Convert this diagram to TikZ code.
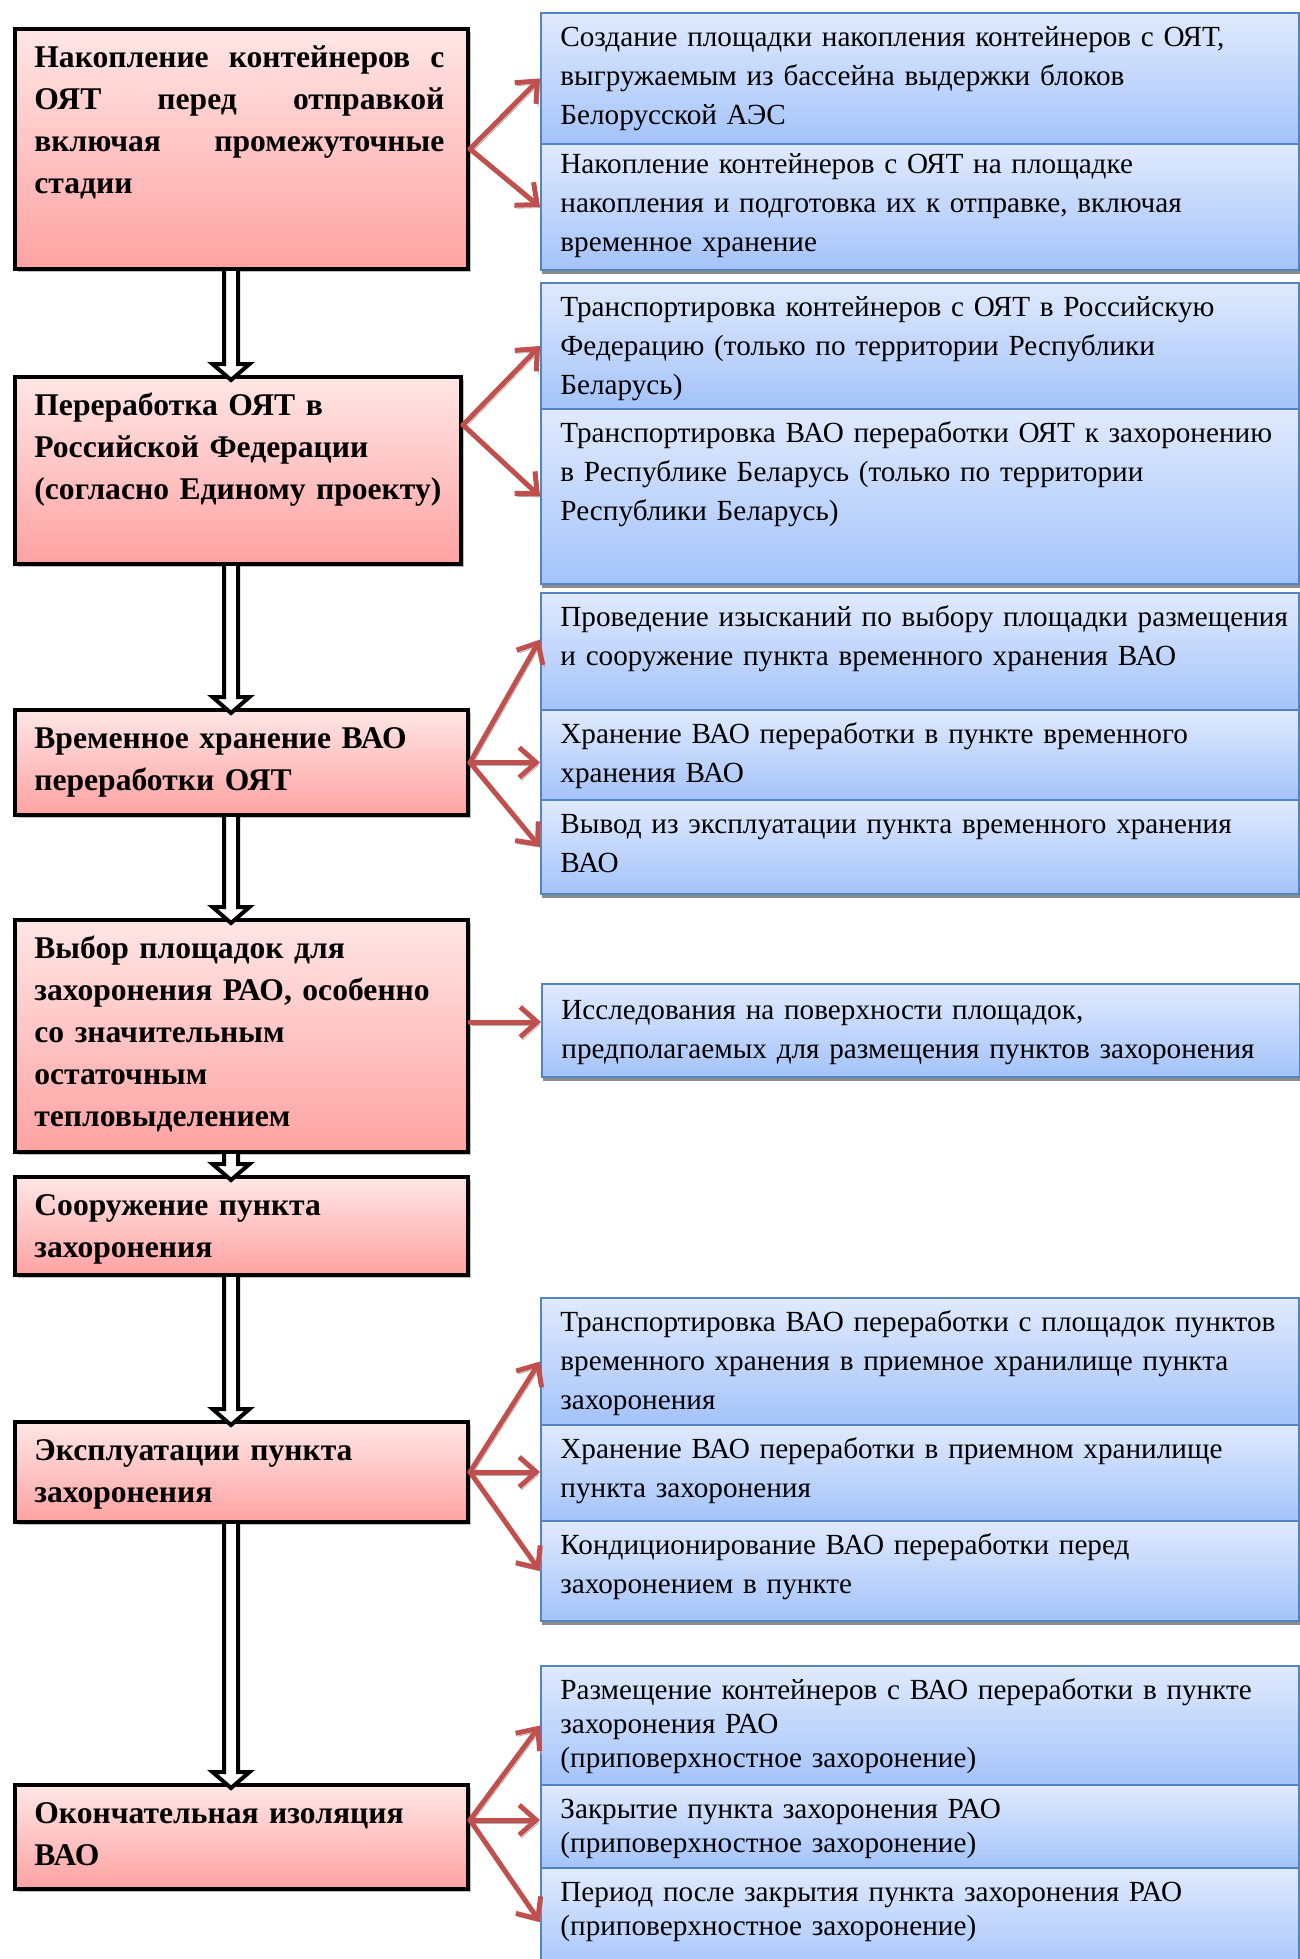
\documentclass[tikz,border=0pt]{standalone}
\usepackage{fontspec}
\setmainfont{Liberation Serif}
\usetikzlibrary{arrows.meta,calc,shadows}
\definecolor{pinktop}{RGB}{255,230,230}
\definecolor{pinkbot}{RGB}{255,162,162}
\definecolor{bluetop}{RGB}{224,234,253}
\definecolor{bluebot}{RGB}{164,195,250}
\definecolor{blueline}{RGB}{84,131,196}
\definecolor{redarrow}{RGB}{192,80,77}
\tikzset{
  stage/.style={draw=black, line width=2pt, top color=pinktop, bottom color=pinkbot,
    anchor=north west, inner sep=0pt, minimum width=226.75pt,
    drop shadow={shadow xshift=1.5pt, shadow yshift=-1.5pt, fill=black!25, opacity=1}},
  stagetext/.style={anchor=north west, inner sep=0pt, text width=215pt, align=left,
    font=\fontsize{15.8}{21}\selectfont\bfseries, xshift=10.75pt, yshift=-5.3pt},
  task/.style={draw=blueline, line width=1pt, top color=bluetop, bottom color=bluebot,
    anchor=north west, inner sep=0pt, minimum width=379pt,
    drop shadow={shadow xshift=0.5pt, shadow yshift=-2pt, fill=black!45, opacity=1}},
  tasktext/.style={anchor=north west, inner sep=0pt, text width=375pt, align=left,
    font=\fontsize{14.6}{19.5}\selectfont, xshift=10pt, yshift=-3.35pt},
  flow/.style={draw=redarrow, line width=2.5pt, line cap=round,
    -{Straight Barb[length=8.5pt,width=15pt]},
    preaction={draw=black!30, transform canvas={xshift=1pt,yshift=-1.5pt}}},
  hollow/.style={draw=black, fill=white, line width=2pt, miter limit=4}
}
\begin{document}
\begin{tikzpicture}[x=1pt,y=1pt]
\useasboundingbox (0,0) rectangle (650,-979.5);
% stages
\node[stage, minimum height=120pt] (b1) at (6.25,-13.5) {};
\node[stagetext, text width=205pt, align=justify] (t1) at (b1.north west)
  {\strut Накопление контейнеров с\linebreak ОЯТ перед отправкой\linebreak включая промежуточные\linebreak стадии};
\node[stage, minimum width=223.25pt, minimum height=93.5pt] (b2) at (6.25,-187.5) {};
\node[stagetext] (t2) at (b2.north west) {\strut Переработка ОЯТ в\\ Российской Федерации\\ (согласно Единому проекту)};
\node[stage, minimum height=52.5pt] (b3) at (6.25,-354) {};
\node[stagetext] (t3) at (b3.north west) {\strut Временное хранение ВАО\\ переработки ОЯТ};
\node[stage, minimum height=116pt] (b4) at (6.25,-459) {};
\node[stagetext] (t4) at (b4.north west) {\strut Выбор площадок для\\ захоронения РАО, особенно\\ со значительным\\ остаточным\\ тепловыделением};
\node[stage, minimum height=49pt] (b5) at (6.25,-587.5) {};
\node[stagetext] (t5) at (b5.north west) {\strut Сооружение пункта\\ захоронения};
\node[stage, minimum height=50pt] (b6) at (6.25,-710) {};
\node[stagetext] (t6) at (b6.north west) {\strut Эксплуатации пункта\\ захоронения};
\node[stage, minimum height=52pt] (b7) at (6.25,-891.5) {};
\node[stagetext] (t7) at (b7.north west) {\strut Окончательная изоляция\\ ВАО};
% tasks
\node[task, minimum height=65.5pt] (r1a) at (270,-6) {};
\node[tasktext] at (r1a.north west) {\strut Создание площадки накопления контейнеров с ОЯТ,\\ выгружаемым из бассейна выдержки блоков\\ Белорусской АЭС};
\node[task, minimum height=63pt] (r1b) at (270,-71.5) {};
\node[tasktext, yshift=2pt] at (r1b.north west) {\strut Накопление контейнеров с ОЯТ на площадке\\ накопления и подготовка их к отправке, включая\\ временное хранение};
\node[task, minimum height=63pt] (r2a) at (270,-141) {};
\node[tasktext] at (r2a.north west) {\strut Транспортировка контейнеров с ОЯТ в Российскую\\ Федерацию (только по территории Республики\\ Беларусь)};
\node[task, minimum height=87.5pt] (r2b) at (270,-204) {};
\node[tasktext] at (r2b.north west) {\strut Транспортировка ВАО переработки ОЯТ к захоронению\\ в Республике Беларусь (только по территории\\ Республики Беларусь)};
\node[task, minimum height=58.5pt] (r3a) at (270,-296) {};
\node[tasktext] at (r3a.north west) {\strut Проведение изысканий по выбору площадки размещения\\ и сооружение пункта временного хранения ВАО};
\node[task, minimum height=45pt] (r3b) at (270,-354.5) {};
\node[tasktext] at (r3b.north west) {\strut Хранение ВАО переработки в пункте временного\\ хранения ВАО};
\node[task, minimum height=47pt] (r3c) at (270,-399.5) {};
\node[tasktext] at (r3c.north west) {\strut Вывод из эксплуатации пункта временного хранения\\ ВАО};
\node[task, minimum height=46.5pt] (r4) at (270.5,-491.5) {};
\node[tasktext, yshift=-1pt] at (r4.north west) {\strut Исследования на поверхности площадок,\\ предполагаемых для размещения пунктов захоронения};
\node[task, minimum height=63.5pt] (r5a) at (270,-648.5) {};
\node[tasktext] at (r5a.north west) {\strut Транспортировка ВАО переработки с площадок пунктов\\ временного хранения в приемное хранилище пункта\\ захоронения};
\node[task, minimum height=48pt] (r5b) at (270,-712) {};
\node[tasktext] at (r5b.north west) {\strut Хранение ВАО переработки в приемном хранилище\\ пункта захоронения};
\node[task, minimum height=50pt] (r5c) at (270,-760) {};
\node[tasktext] at (r5c.north west) {\strut Кондиционирование ВАО переработки перед\\ захоронением в пункте};
\node[task, minimum height=59.5pt] (r6a) at (270,-832.5) {};
\node[tasktext, font=\fontsize{14.6}{17}\selectfont, yshift=-1.75pt] at (r6a.north west) {\strut Размещение контейнеров с ВАО переработки в пункте\\ захоронения РАО\\ (приповерхностное захоронение)};
\node[task, minimum height=41.5pt] (r6b) at (270,-892) {};
\node[tasktext, font=\fontsize{14.6}{17}\selectfont, yshift=-1.75pt] at (r6b.north west) {\strut Закрытие пункта захоронения РАО\\ (приповерхностное захоронение)};
\node[task, minimum height=54pt] (r6c) at (270,-933.5) {};
\node[tasktext, font=\fontsize{14.6}{17}\selectfont, yshift=-1.75pt] at (r6c.north west) {\strut Период после закрытия пункта захоронения РАО\\ (приповерхностное захоронение)};
% hollow arrows between stages
\coordinate (ax) at (115.5,0);
\foreach \a/\b in {b1/b2,b2/b3,b3/b4,b4/b5,b5/b6,b6/b7}
  \draw[hollow] ($(ax |- \a.south)+(-3.5,0)$) -- ($(ax |- \b.north)+(-3.5,5.5)$)
    -- ($(ax |- \b.north)+(-9.25,5.5)$) -- ($(ax |- \b.north)+(0,-2.5)$)
    -- ($(ax |- \b.north)+(9.25,5.5)$) -- ($(ax |- \b.north)+(3.5,5.5)$)
    -- ($(ax |- \a.south)+(3.5,0)$);
% red arrows
\coordinate (s2) at ($(b2.north east)+(0,-25)$);
\coordinate (s4) at ($(b4.north east)+(0,-52)$);
\coordinate (s7) at ($(b7.north east)+(0,-18.5)$);
\foreach \t in {r1a,r1b}
  \draw[flow] (b1.east) -- (\t.west);
\foreach \t in {r2a,r2b}
  \draw[flow] (s2) -- (\t.west);
\draw[flow] (b3.east) -- ($(r3a.west)+(0,6)$);
\draw[flow] (b3.east) -- (b3.east -| r3b.west);
\draw[flow] (b3.east) -- (r3c.west);
\draw[flow] (s4) -- (s4 -| r4.west);
\draw[flow] (b6.east) -- (r5a.west);
\draw[flow] (b6.east) -- (b6.east -| r5b.west);
\draw[flow] (b6.east) -- (r5c.west);
\draw[flow] (s7) -- (r6a.west);
\draw[flow] (s7) -- (s7 -| r6b.west);
\draw[flow] (s7) -- (r6c.west);
\end{tikzpicture}
\end{document}
